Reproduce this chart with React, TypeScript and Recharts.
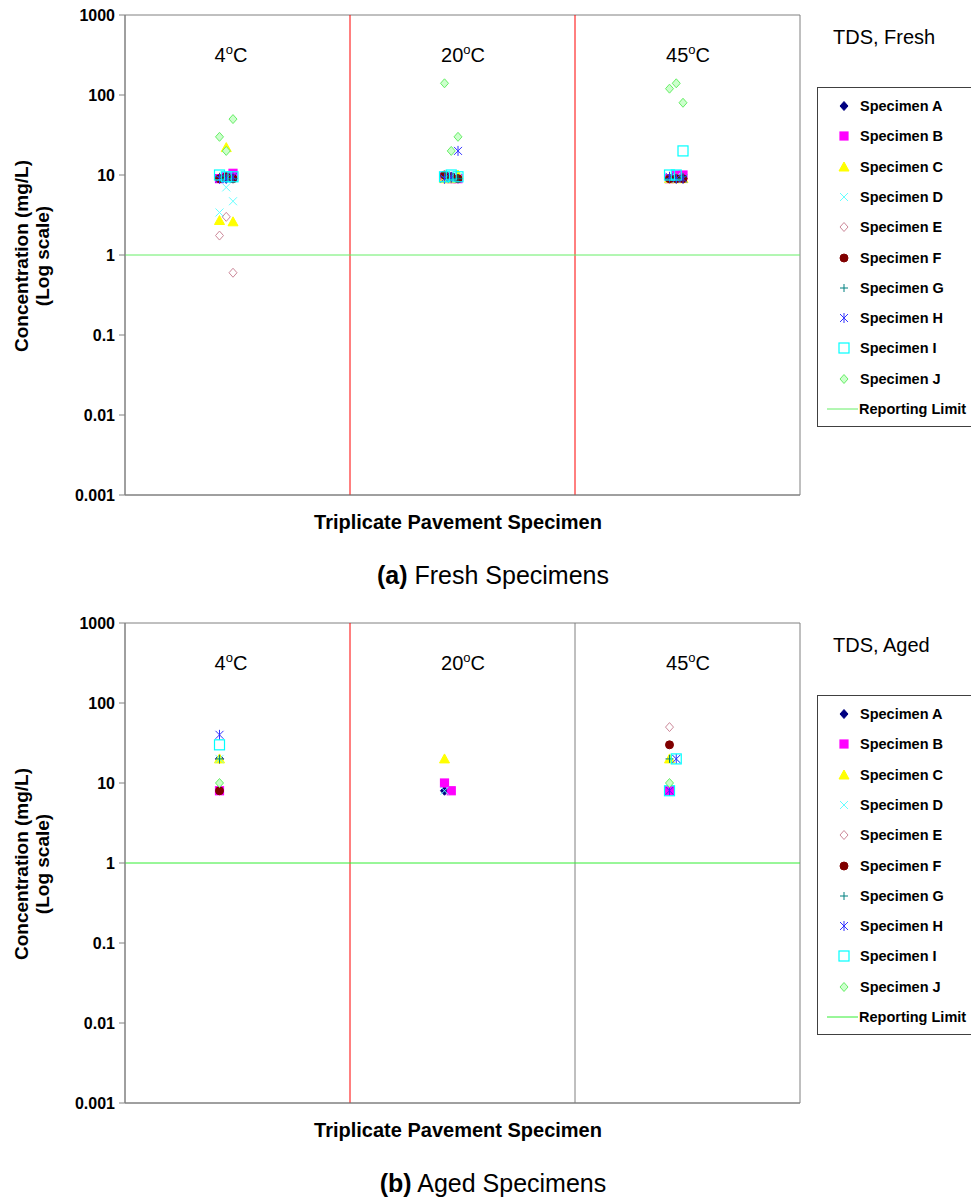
import React from 'react';
import {
  ScatterChart,
  Scatter,
  XAxis,
  YAxis,
  ReferenceLine,
  ReferenceArea,
} from 'recharts';

const FONT = '"Liberation Sans", Arial, sans-serif';

const temperatures = ['4', '20', '45'];
const replicateX = [0.42, 0.45, 0.48];
const yTicks = [0.001, 0.01, 0.1, 1, 10, 100, 1000];
const reportingLimit = 1;

// fresh specimens: [4C, 20C, 45C] x three replicates
const freshA = [[9, 9, 9], [9, 9.5, 9], [9, 9, 9]];
const freshB = [[9, 9.5, 10.5], [9.5, 9, 9], [9, 10, 10]];
const freshC = [[2.7, 22, 2.6], [9, 9, 10], [9, 9, 9]];
const freshD = [[3.4, 7, 4.7], [9, 9, 9.5], [9, 9.5, 9]];
const freshE = [[1.75, 3, 0.6], [9, 9, 9], [9, 9, 9]];
const freshF = [[9, 9.5, 9], [10, 9.5, 9], [9, 9, 9]];
const freshG = [[9.5, 9, 9], [9.5, 9, 9], [9, 9, 9.5]];
const freshH = [[9, 9, 9.5], [9, 9.5, 20], [9.5, 9, 9]];
const freshI = [[10, 9.5, 9.5], [9.5, 10, 9.5], [10, 10, 20]];
const freshJ = [[30, 20, 50], [140, 20, 30], [120, 140, 80]];

// aged specimens, null = no result
const agedA = [[20, null, null], [8, null, null], [null, null, null]];
const agedB = [[8, null, null], [10, 8, null], [8, null, null]];
const agedC = [[20, null, null], [20, null, null], [20, null, null]];
const agedD = [[20, null, null], [8, null, null], [null, 20, null]];
const agedE = [[null, null, null], [null, null, null], [50, null, null]];
const agedF = [[8, null, null], [null, null, null], [30, null, null]];
const agedG = [[20, null, null], [null, null, null], [20, null, null]];
const agedH = [[40, null, null], [null, null, null], [8, 20, null]];
const agedI = [[30, null, null], [null, null, null], [8, 20, null]];
const agedJ = [[10, null, null], [null, null, null], [10, null, null]];

const specimens = [
  { name: 'Specimen A', kind: 'diamond', color: '#000080', fill: '#000080', size: 4 },
  { name: 'Specimen B', kind: 'square', color: '#ff00ff', fill: '#ff00ff', size: 4 },
  { name: 'Specimen C', kind: 'triangle', color: '#ffff00', fill: '#ffff00', size: 4 },
  { name: 'Specimen D', kind: 'x', color: '#66ffff', fill: 'none', size: 4 },
  { name: 'Specimen E', kind: 'diamond', color: '#cc8899', fill: 'none', size: 4 },
  { name: 'Specimen F', kind: 'circle', color: '#800000', fill: '#800000', size: 4 },
  { name: 'Specimen G', kind: 'plus', color: '#008080', fill: 'none', size: 4 },
  { name: 'Specimen H', kind: 'star', color: '#3333ff', fill: 'none', size: 4 },
  { name: 'Specimen I', kind: 'square', color: '#00ffff', fill: 'none', size: 5 },
  { name: 'Specimen J', kind: 'diamond', color: '#66ee66', fill: '#ccffcc', size: 4 },
];

const freshValues = [freshA, freshB, freshC, freshD, freshE, freshF, freshG, freshH, freshI, freshJ];
const agedValues = [agedA, agedB, agedC, agedD, agedE, agedF, agedG, agedH, agedI, agedJ];

function toPoints(values: (number | null)[][]) {
  const pts: { x: number; y: number }[] = [];
  values.forEach((reps, t) =>
    reps.forEach((v, r) => {
      if (v != null) pts.push({ x: t + replicateX[r], y: v });
    })
  );
  return pts;
}

function Marker({ kind, color, fill, size, cx, cy }: any) {
  const s = size;
  switch (kind) {
    case 'diamond':
      return <polygon points={`${cx},${cy - s - 0.5} ${cx + s},${cy} ${cx},${cy + s + 0.5} ${cx - s},${cy}`} fill={fill} stroke={color} strokeWidth={1} />;
    case 'square':
      return <rect x={cx - s} y={cy - s} width={2 * s} height={2 * s} fill={fill} stroke={color} strokeWidth={1.2} />;
    case 'triangle':
      return <polygon points={`${cx},${cy - s - 1} ${cx + s + 1},${cy + s} ${cx - s - 1},${cy + s}`} fill={fill} stroke={color} />;
    case 'circle':
      return <circle cx={cx} cy={cy} r={s} fill={fill} stroke={color} />;
    case 'x':
      return <path d={`M${cx - s},${cy - s}L${cx + s},${cy + s}M${cx - s},${cy + s}L${cx + s},${cy - s}`} stroke={color} strokeWidth={1} />;
    case 'plus':
      return <path d={`M${cx - s},${cy}L${cx + s},${cy}M${cx},${cy - s}L${cx},${cy + s}`} stroke={color} strokeWidth={1} />;
    case 'star':
      return <path d={`M${cx - s},${cy - s}L${cx + s},${cy + s}M${cx - s},${cy + s}L${cx + s},${cy - s}M${cx},${cy - s - 1}L${cx},${cy + s + 1}`} stroke={color} strokeWidth={1} />;
    default:
      return null;
  }
}

function Legend({ top, lineColor }: { top: number; lineColor: string }) {
  return (
    <div
      style={{
        position: 'absolute',
        left: 817,
        top,
        width: 160,
        height: 338,
        border: '1px solid #404040',
        background: '#fff',
        fontFamily: FONT,
        fontWeight: 'bold',
        fontSize: 14.5,
      }}
    >
      {specimens.map((s, i) => (
        <div key={s.name} style={{ position: 'absolute', left: 0, top: 3 + i * 30.3, height: 30, display: 'flex', alignItems: 'center' }}>
          <svg width={40} height={30}>
            <Marker kind={s.kind} color={s.color} fill={s.fill} size={s.size} cx={26} cy={15} />
          </svg>
          <span style={{ marginLeft: 2 }}>{s.name}</span>
        </div>
      ))}
      <div style={{ position: 'absolute', left: 0, top: 3 + 10 * 30.3, height: 30, display: 'flex', alignItems: 'center' }}>
        <svg width={40} height={30}>
          <line x1={9} x2={40} y1={15} y2={15} stroke={lineColor} />
        </svg>
        <span style={{ marginLeft: 1, whiteSpace: 'nowrap' }}>Reporting Limit</span>
      </div>
    </div>
  );
}

function Panel({ values, title, caption, tag, secondLine, limitColor }: any) {
  const tempX = [231, 463, 688];
  return (
    <div style={{ position: 'relative', width: 971, height: 608 }}>
      <ScatterChart width={971} height={600} margin={{ top: 15, right: 171, left: 65, bottom: 75 }}>
        <XAxis type="number" dataKey="x" domain={[0, 3]} tick={false} tickLine={false} axisLine={{ stroke: '#808080' }} height={30} />
        <YAxis
          type="number"
          dataKey="y"
          scale="log"
          domain={[0.001, 1000]}
          ticks={yTicks}
          allowDataOverflow
          width={60}
          tickMargin={4}
          tickFormatter={(v: number) => String(v)}
          tick={{ fill: '#000', fontFamily: FONT, fontWeight: 'bold', fontSize: 16 }}
          axisLine={{ stroke: '#808080' }}
          tickLine={{ stroke: '#808080' }}
        />
        <ReferenceArea x1={0} x2={3} y1={0.001} y2={1000} fill="none" stroke="#808080" />
        <ReferenceLine x={1} stroke="#ff0000" />
        <ReferenceLine x={2} stroke={secondLine} />
        <ReferenceLine y={reportingLimit} stroke={limitColor} />
        {specimens.map((s, i) => (
          <Scatter
            key={s.name}
            name={s.name}
            data={toPoints(values[i])}
            isAnimationActive={false}
            shape={(p: any) => <Marker kind={s.kind} color={s.color} fill={s.fill} size={s.size} cx={p.cx} cy={p.cy} />}
          />
        ))}
      </ScatterChart>
      <svg width={971} height={608} style={{ position: 'absolute', left: 0, top: 0, pointerEvents: 'none', overflow: 'visible' }} fontFamily={FONT}>
        <text transform="translate(28,256) rotate(-90)" textAnchor="middle" fontWeight="bold" fontSize={19}>Concentration (mg/L)</text>
        <text transform="translate(49,256) rotate(-90)" textAnchor="middle" fontWeight="bold" fontSize={19}>(Log scale)</text>
        {temperatures.map((t, i) => (
          <text key={t} x={tempX[i]} y={62} textAnchor="middle" fontSize={20}>
            {t}
            <tspan dy={-8} fontSize={13}>o</tspan>
            <tspan dy={8}>C</tspan>
          </text>
        ))}
        <text x={833} y={44} fontSize={20}>{title}</text>
        <text x={458} y={529} textAnchor="middle" fontWeight="bold" fontSize={20}>Triplicate Pavement Specimen</text>
        <text x={493} y={584} textAnchor="middle" fontSize={25}>
          <tspan fontWeight="bold">{tag}</tspan> {caption}
        </text>
      </svg>
      <Legend top={87} lineColor={limitColor} />
    </div>
  );
}

export default function App() {
  return (
    <div style={{ position: 'absolute', left: 0, top: 0, width: 971, height: 1198, background: '#fff', overflow: 'hidden' }}>
      <Panel values={freshValues} title="TDS, Fresh" tag="(a)" caption="Fresh Specimens" secondLine="#ff0000" limitColor="#66ee66" />
      <Panel values={agedValues} title="TDS, Aged" tag="(b)" caption="Aged Specimens" secondLine="#808080" limitColor="#33ee33" />
    </div>
  );
}
